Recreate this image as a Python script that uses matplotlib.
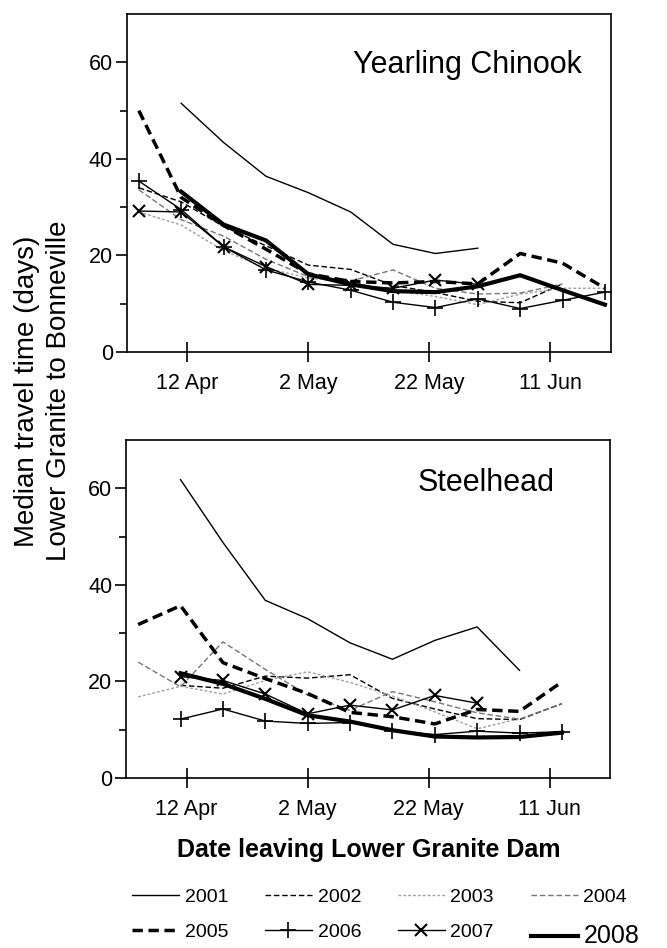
import datetime as dt
import numpy as np
import matplotlib
matplotlib.use('Agg')
import matplotlib.pyplot as plt
from matplotlib.ticker import FixedLocator, FuncFormatter
import matplotlib.dates as mdates

plt.rcParams['font.family'] = ['Liberation Sans', 'DejaVu Sans']

nan = np.nan
# weekly release dates (Apr 4 ... Jun 20)
weeks = [dt.date(2008, 4, 4) + dt.timedelta(days=7 * i) for i in range(12)]
years = ['2001', '2002', '2003', '2004', '2005', '2006', '2007', '2008']

# Yearling Chinook median travel time (days)
chinook = {
    '2001': [nan, 51.5, 43.4, 36.4, 33.0, 29.0, 22.3, 20.4, 21.5, nan, nan, nan],
    '2002': [34.0, 31.1, 26.0, 22.0, 18.0, 17.1, 13.8, 12.3, 10.5, 10.2, 14.1, nan],
    '2003': [29.0, 26.3, 21.0, 17.4, 15.3, 14.5, 12.8, 11.5, 9.8, 12.0, 13.2, 13.2],
    '2004': [33.6, 27.4, 24.0, 19.2, 15.6, 14.7, 17.0, 13.2, 12.0, 12.2, 14.1, nan],
    '2005': [50.0, 32.0, 26.2, 21.3, 16.2, 14.6, 14.3, 14.6, 14.1, 20.4, 18.4, 13.2],
    '2006': [35.4, 29.5, 21.8, 17.0, 14.5, 12.8, 10.3, 9.2, 11.0, 9.0, 10.7, 12.4],
    '2007': [29.2, 29.0, 21.8, 17.7, 14.0, 13.8, 13.2, 14.9, 14.0, nan, nan, nan],
    '2008': [nan, 33.2, 26.4, 23.1, 16.1, 14.0, 12.6, 12.4, 13.6, 15.9, 12.8, 9.8],
}

# Steelhead median travel time (days)
steelhead = {
    '2001': [nan, 61.8, 48.8, 36.8, 33.0, 28.0, 24.6, 28.5, 31.3, 22.3, nan, nan],
    '2002': [nan, 19.2, 18.6, 21.1, 20.7, 21.4, 16.5, 14.3, 12.3, 12.1, 15.4, nan],
    '2003': [16.8, 19.0, 17.4, 20.2, 22.0, 19.8, 17.0, 13.7, 10.2, 12.3, nan, nan],
    '2004': [24.0, 18.9, 28.2, 22.5, 17.2, 14.0, 17.9, 15.8, 13.5, 12.2, 15.4, nan],
    '2005': [31.8, 35.7, 23.9, 20.6, 17.5, 13.6, 12.7, 11.2, 14.2, 13.8, 19.9, nan],
    '2006': [nan, 12.2, 14.3, 11.8, 11.3, 11.5, 9.8, 9.0, 9.7, 9.3, 9.6, nan],
    '2007': [nan, 21.0, 20.2, 17.4, 13.3, 15.1, 14.1, 17.1, 15.5, nan, nan, nan],
    '2008': [nan, 21.7, 19.5, 16.4, 13.0, 11.7, 9.9, 8.6, 8.4, 8.5, 9.4, nan],
}

xtick_dates = [dt.date(2008, 4, 12), dt.date(2008, 5, 2), dt.date(2008, 5, 22), dt.date(2008, 6, 11)]

styles = {
    '2001': dict(color='black', lw=1.0, ls='-'),
    '2002': dict(color='black', lw=1.0, ls=(0, (4, 2))),
    '2003': dict(color='#a0a0a0', lw=1.0, ls=(0, (2, 1.5))),
    '2004': dict(color='#777777', lw=1.0, ls=(0, (4, 2))),
    '2005': dict(color='black', lw=2.5, ls=(0, (3, 1.6))),
    '2006': dict(color='black', lw=1.0, ls='-', marker='+', ms=11, mew=1.2),
    '2007': dict(color='black', lw=1.0, ls='-', marker='x', ms=8, mew=1.5),
    '2008': dict(color='black', lw=3.0, ls='-'),
}

fig = plt.figure(figsize=(6.67, 9.48), dpi=100)
ax1 = fig.add_axes([0.190, 0.6287, 0.726, 0.3565])
ax2 = fig.add_axes([0.189, 0.1793, 0.726, 0.3565])

xmin = mdates.date2num(dt.date(2008, 4, 2))
xmax = mdates.date2num(dt.date(2008, 6, 21))
xnum = mdates.date2num(weeks)

handles = {}
for ax, data, title, tx, ty in [(ax1, chinook, 'Yearling Chinook', 0.94, 0.849),
                                (ax2, steelhead, 'Steelhead', 0.886, 0.873)]:
    for y in years:
        ln, = ax.plot(xnum, data[y], label=y, **styles[y])
        handles[y] = ln
    ax.set_xlim(xmin, xmax)
    ax.set_ylim(0, 70)
    ax.xaxis.set_major_locator(FixedLocator(mdates.date2num(xtick_dates)))
    ax.xaxis.set_major_formatter(FuncFormatter(
        lambda v, p: '%d %s' % (mdates.num2date(v).day, mdates.num2date(v).strftime('%b'))))
    ax.yaxis.set_major_locator(FixedLocator([0, 20, 40, 60]))
    ax.yaxis.set_minor_locator(FixedLocator([10, 30, 50]))
    ax.tick_params(axis='x', direction='inout', length=14, width=1.2, labelsize=15.5, pad=8)
    ax.tick_params(axis='y', which='major', direction='out', length=8, width=1.2,
                   labelsize=15.5, pad=2)
    ax.tick_params(axis='y', which='minor', direction='out', length=5, width=1.2)
    for sp in ax.spines.values():
        sp.set_linewidth(1.2)
    ax.text(tx, ty, title, transform=ax.transAxes, ha='right', va='center', fontsize=22)

fig.text(0.040, 0.5876, 'Median travel time (days)', rotation=90, ha='center', va='center',
         fontsize=20)
fig.text(0.088, 0.5876, 'Lower Granite to Bonneville', rotation=90, ha='center', va='center',
         fontsize=20)
fig.text(0.553, 0.1034, 'Date leaving Lower Granite Dam', ha='center', va='center',
         fontsize=18, fontweight='bold')

order = ['2001', '2005', '2002', '2006', '2003', '2007', '2004', '2008']
leg = fig.legend([handles[y] for y in order], order, ncol=4, loc='center left',
                 bbox_to_anchor=(0.198, 0.0315), frameon=False, fontsize=14,
                 handlelength=2.4, handletextpad=0.3, columnspacing=1.9,
                 labelspacing=0.9, numpoints=1, borderpad=0, borderaxespad=0)
leg.get_texts()[7].set_fontsize(18)

fig.savefig('out.png', dpi=100)
